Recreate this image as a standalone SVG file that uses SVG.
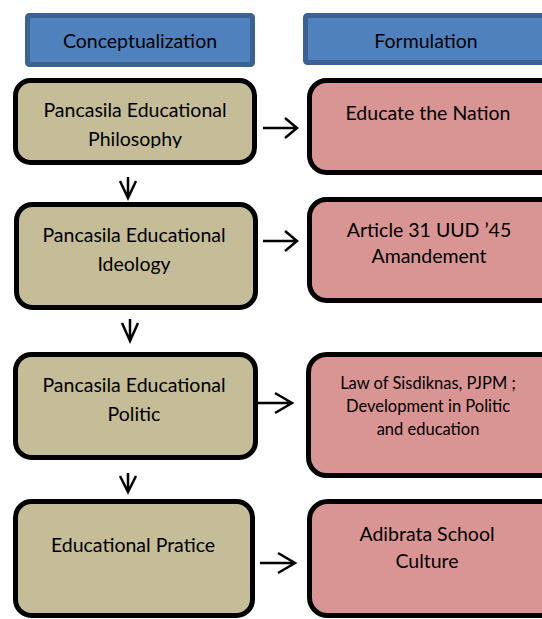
<svg xmlns="http://www.w3.org/2000/svg" width="542" height="619" viewBox="0 0 542 619">
<style>
.hdr{fill:#4F81BD;stroke:#3A6293;stroke-width:5}
.tan{fill:#C4BD97;stroke:#000;stroke-width:5}
.pink{fill:#D99594;stroke:#000;stroke-width:5}
text{font-family:Lato,"Open Sans",sans-serif;font-size:19.5px;fill:#000;text-anchor:middle}
.sm{font-size:16.5px}
.arr{fill:none;stroke:#000;stroke-width:2.5;stroke-linecap:butt;stroke-linejoin:miter}
</style>
<defs>
<clipPath id="c1"><rect x="15" y="80" width="241" height="68"/></clipPath>
</defs>
<rect width="542" height="619" fill="#fff"/>
<g id="hdr-concept">
<rect class="hdr" x="27.5" y="15.5" width="225" height="49" rx="2"/>
<text x="140" y="48">Conceptualization</text>
</g>
<g id="hdr-formulation">
<rect class="hdr" x="305.5" y="15.5" width="250" height="47" rx="2"/>
<text x="426" y="48">Formulation</text>
</g>
<g id="c-philosophy">
<rect class="tan" x="15.5" y="80.5" width="239" height="82" rx="15"/>
<g clip-path="url(#c1)">
<text x="135" y="117">Pancasila Educational</text>
<text x="135" y="146">Philosophy</text>
</g>
</g>
<g id="f-nation">
<rect class="pink" x="309.5" y="80.5" width="250" height="92" rx="17"/>
<text x="428" y="120">Educate the Nation</text>
</g>
<g id="c-ideology">
<rect class="tan" x="16.5" y="204.5" width="239" height="103" rx="16"/>
<text x="134" y="242">Pancasila Educational</text>
<text x="134" y="271">Ideology</text>
</g>
<g id="f-article">
<rect class="pink" x="309.5" y="199.5" width="250" height="101" rx="17"/>
<text x="429" y="237">Article 31 UUD ’45</text>
<text x="429" y="263">Amandement</text>
</g>
<g id="c-politic">
<rect class="tan" x="15.5" y="354.5" width="240" height="103" rx="16"/>
<text x="134" y="392">Pancasila Educational</text>
<text x="134" y="421">Politic</text>
</g>
<g id="f-law">
<rect class="pink" x="308.5" y="354.5" width="250" height="121" rx="18"/>
<text class="sm" x="428" y="389">Law of Sisdiknas, PJPM ;</text>
<text class="sm" x="428" y="412">Development in Politic</text>
<text class="sm" x="428" y="435">and education</text>
</g>
<g id="c-practice">
<rect class="tan" x="15.5" y="501.5" width="237" height="114" rx="16"/>
<text x="133" y="552">Educational Pratice</text>
</g>
<g id="f-adibrata">
<rect class="pink" x="309.5" y="501.5" width="250" height="114" rx="18"/>
<text x="427" y="541">Adibrata School</text>
<text x="427" y="568">Culture</text>
</g>
<g id="connectors">
<path class="arr" d="M263 128H297M285 118L297 128L285 138"/>
<path class="arr" d="M263 241H297M285 231L297 241L285 251"/>
<path class="arr" d="M258 403H292M275 393L292 403L275 413"/>
<path class="arr" d="M260 563H295M278 553L295 563L278 573"/>
<path class="arr" d="M128 177V198M120 181L128 198L136 181"/>
<path class="arr" d="M130 319V341M122 323L130 341L138 323"/>
<path class="arr" d="M128 473V492M120 476L128 492L136 476"/>
</g>
</svg>
